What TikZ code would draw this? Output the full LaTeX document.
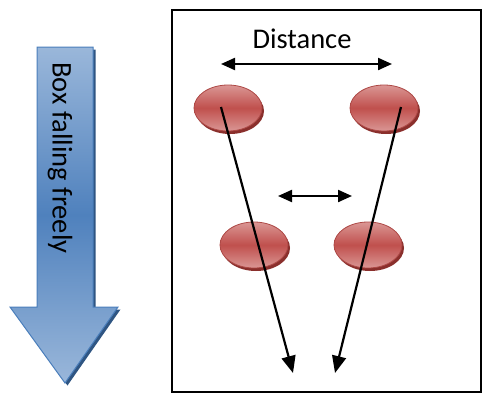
\documentclass[tikz,border=0pt]{standalone}
\usepackage{fontspec}
\setmainfont{Carlito}
\usetikzlibrary{shapes.geometric,arrows.meta,shadows}
\definecolor{cellred}{HTML}{C0504D}
\definecolor{celllight}{HTML}{DA9694}
\definecolor{cellshadow}{HTML}{8A2F2C}
\definecolor{arrowblue}{HTML}{4F81BD}
\definecolor{arrowlight}{HTML}{9AB7DA}
\definecolor{arrowedge}{HTML}{4A7EBB}
\definecolor{arrowshadow}{HTML}{2F5582}
\tikzset{
  cell/.style={ellipse, minimum width=68pt, minimum height=46pt, inner sep=0pt,
    draw=cellred!90!black, line width=0.8pt,
    top color=celllight, bottom color=celllight, middle color=cellred,
    drop shadow={shadow xshift=2pt, shadow yshift=-3pt, fill=cellshadow, opacity=1}},
  motion/.style={line width=2.2pt, -{Triangle[length=17pt,width=14pt]}},
  gap/.style={line width=2.2pt, {Triangle[length=14pt,width=12pt]}-{Triangle[length=14pt,width=12pt]}},
  lbl/.style={font=\fontsize{28.5}{34}\selectfont, inner sep=0pt}
}
\begin{document}
\begin{tikzpicture}[x=1pt,y=-1pt]
\useasboundingbox (0,0) rectangle (483,394);
% falling arrow
\fill[arrowshadow] (39.5,49.5) -- (95.5,49.5) -- (95.5,309.5) -- (120.5,309.5) -- (67.5,385.5) -- (12.5,309.5) -- (39.5,309.5) -- cycle;
\shade[top color=arrowlight, bottom color=arrowlight, middle color=arrowblue, draw=arrowedge, line width=1pt]
  (37,47) -- (93,47) -- (93,307) -- (118,307) -- (65,383) -- (10,307) -- (37,307) -- cycle;
\node[lbl, rotate=-90] (fall) at (60,158) {Box falling freely};
% frame
\node[draw, line width=1.4pt, minimum width=309pt, minimum height=382pt, inner sep=0pt] (box) at (326.5,201) {};
% cells
\node[cell] (c1) at (228,108) {};
\node[cell] (c2) at (384,108) {};
\node[cell] (c3) at (254,245) {};
\node[cell] (c4) at (368,245) {};
% distance
\coordinate (dl) at (221,64);
\coordinate (dr) at (392,64);
\draw[gap] (dl) -- (dr);
\node[lbl] (dist) at (302,39) {Distance};
\coordinate (sl) at (278,196);
\coordinate (sr) at (352,196);
\draw[gap] (sl) -- (sr);
% trajectories
\coordinate (s1) at (221,107);
\coordinate (s2) at (401,107);
\coordinate (e1) at (293,373);
\coordinate (e2) at (335,373);
\draw[motion] (s1) -- (e1);
\draw[motion] (s2) -- (e2);
\end{tikzpicture}
\end{document}
